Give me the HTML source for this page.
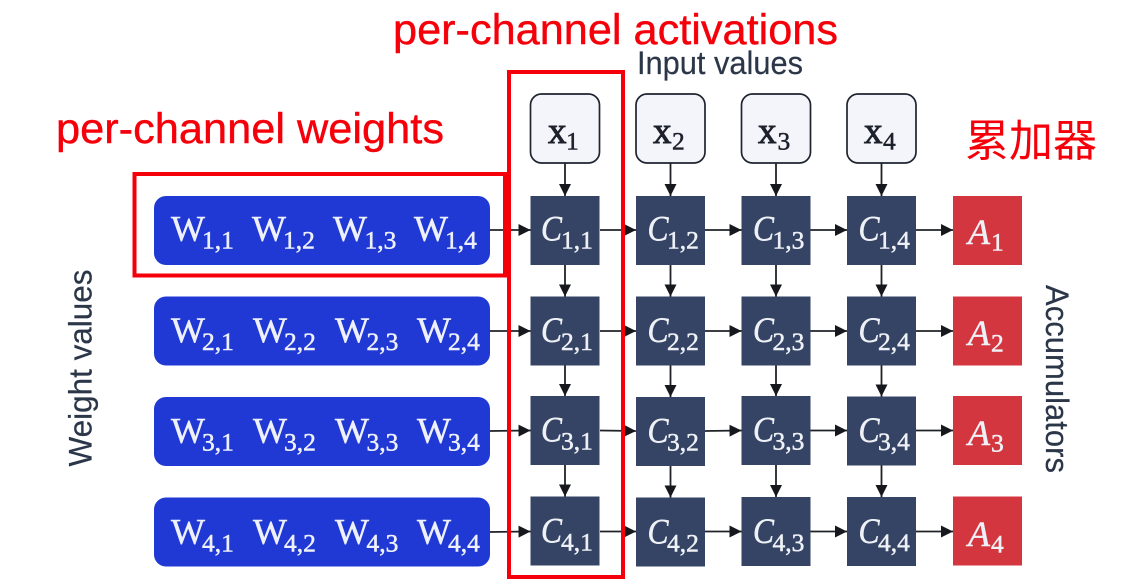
<!DOCTYPE html>
<html lang="en">
<head>
<meta charset="utf-8">
<title>Per-channel weights and activations diagram</title>
<style>
html,body{margin:0;padding:0;background:#fff;width:1146px;height:586px;overflow:hidden}
svg{display:block}
.lab{font-family:"Liberation Sans",sans-serif;font-size:32px;fill:#2b3648;stroke:#2b3648;stroke-width:.2}
.red{font-family:"Liberation Sans",sans-serif;font-size:43px;fill:#f5000a;stroke:#f5000a;stroke-width:.4}
.w{font-family:"Liberation Serif",serif;font-size:36px;fill:#eef1fb;stroke:#eef1fb;stroke-width:.5}
.c{font-family:"Liberation Serif",serif;font-size:36px;font-style:italic;fill:#eef1f6;stroke:#eef1f6;stroke-width:.5}
.x{font-family:"Liberation Serif",serif;font-size:37px;fill:#1c212b;stroke:#1c212b;stroke-width:.9}
.s{font-size:25.5px;font-style:normal;font-weight:normal;stroke-width:.5}
.wb{fill:#2039d4}
.cb{fill:#354364}
.ab{fill:#d43640}
.xb{fill:#f4f5fa;stroke:#1e2430;stroke-width:1.7}
.ar{stroke:#1f2227;stroke-width:1.8;fill:none;marker-end:url(#arrow-head)}
.box{fill:none;stroke:#f5000a;stroke-width:4}
</style>
</head>
<body>
<svg width="1146" height="586" viewBox="0 0 1146 586" xmlns="http://www.w3.org/2000/svg">
<defs>
<marker id="arrow-head" markerUnits="userSpaceOnUse" markerWidth="13" markerHeight="13" refX="12" refY="6" orient="auto"><path d="M0 0L12 6L0 12Z" fill="#16181d"/></marker>
</defs>
<text class="lab" x="637" y="74" textLength="166" lengthAdjust="spacingAndGlyphs">Input values</text>
<text class="lab" transform="translate(91.5 466.5) rotate(-90)" textLength="197" lengthAdjust="spacingAndGlyphs">Weight values</text>
<text class="lab" transform="translate(1046 285) rotate(90)" textLength="188" lengthAdjust="spacingAndGlyphs">Accumulators</text>
<g id="arrows"></g>
<g id="inputs"></g>
<g id="weights"></g>
<g id="cells"></g>
<g id="accumulators"></g>
<rect class="box" x="134.5" y="174" width="370.5" height="101.5"/>
<rect class="box" x="509" y="72" width="114" height="505"/>
<text class="red" x="56" y="143" textLength="388" lengthAdjust="spacingAndGlyphs">per-channel weights</text>
<text class="red" x="393" y="44" textLength="445" lengthAdjust="spacingAndGlyphs">per-channel activations</text>
<text x="965" y="156" style="font-family:'Liberation Sans','Noto Sans CJK SC',sans-serif;font-size:44px;fill:#f5000a">累加器</text>
</svg>
<script>
const rowLabels = [1, 2, 3, 4];
const columnLabels = [1, 2, 3, 4];
const boxSize = 69;
const cellLefts = [530.5, 636, 741.5, 847];
const cellTops = [[196, 196, 196, 196], [296.5, 296.5, 296.5, 296.5], [396, 397, 396, 396.5], [496.5, 497.5, 497, 497]];
const cellBaselineOffsets = [44.7, 45.5, 45.7, 46.2];
const cellLetterLefts = [541, 647.5, 753, 858.5];
const cellSubscriptLefts = [561, 667, 772.5, 878];
const weightTops = [196, 296.5, 397, 497.5];
const weightBaselines = [240.7, 342, 442.7, 543.7];
const weightLetterLefts = [[171, 252, 333, 414], [171, 253, 335, 417], [171, 253, 335, 417], [171, 253, 335, 417]];
const weightSubscriptLefts = [[202, 283, 364.5, 445], [202, 284, 366.5, 448], [202, 284, 366.5, 448], [202, 284, 366.5, 448]];
const accumulatorTops = [196, 296.5, 396, 496.5];
const accumulatorBaselines = [244, 345, 445, 546];
const inputLetterLefts = [548, 653, 758, 864];
const inputSubscriptLefts = [566, 672, 777.5, 883];
const columnCenters = [565, 670.5, 776, 881.5];
const flowY = [[230, 230, 230, 230, 230, 230], [331, 331, 331, 331, 331, 331], [431, 430.5, 431, 430.5, 430.5, 430.5], [532, 531.5, 531.5, 531.5, 531.5, 531.5]];
const flowStarts = [490, 600, 705, 810.5, 916];
const flowEnds = [530.5, 636, 741.5, 847, 953];

function make(parent, tag, cls, props, content) {
  const el = document.createElementNS('http://www.w3.org/2000/svg', tag);
  el.setAttribute('class', cls);
  Object.keys(props).forEach(function (key) { el.setAttribute(key, props[key]); });
  if (content !== undefined) el.textContent = content;
  parent.appendChild(el);
  return el;
}

const arrowLayer = document.getElementById('arrows');
const inputLayer = document.getElementById('inputs');
const weightLayer = document.getElementById('weights');
const cellLayer = document.getElementById('cells');
const accumulatorLayer = document.getElementById('accumulators');

columnLabels.forEach(function (column, c) {
  const inputBox = make(inputLayer, 'rect', 'xb', { x: cellLefts[c], y: 94, width: boxSize, height: boxSize, rx: 11 });
  
  
  const inputLetter = make(inputLayer, 'text', 'x', { x: inputLetterLefts[c], y: 143 }, 'x');
  
  
  const inputSubscript = make(inputLayer, 'text', 'x s', { x: inputSubscriptLefts[c], y: 149.5 }, String(column));
  
  
});

rowLabels.forEach(function (row, r) {
  const weightRow = make(weightLayer, 'rect', 'wb', { x: 154, y: weightTops[r], width: 336, height: boxSize, rx: 12 });
  
  

  const accumulator = make(accumulatorLayer, 'rect', 'ab', { x: 953, y: accumulatorTops[r], width: boxSize, height: boxSize });
  
  
  const accumulatorLetter = make(accumulatorLayer, 'text', 'c', { x: 968, y: accumulatorBaselines[r] }, 'A');
  
  
  const accumulatorSubscript = make(accumulatorLayer, 'text', 'c s', { x: 991, y: accumulatorBaselines[r] + 6.5 }, String(row));
  
  

  flowStarts.forEach(function (startX, segment) {
    const flowArrow = make(arrowLayer, 'path', 'ar', { d: 'M' + startX + ' ' + flowY[r][segment] + 'L' + flowEnds[segment] + ' ' + flowY[r][segment + 1] });
    
    
  });

  columnLabels.forEach(function (column, c) {
    const pair = row + ',' + column;
    const suffix = row + '-' + column;
    const top = cellTops[r][c];
    const baseline = top + cellBaselineOffsets[r];

    const downStart = r === 0 ? 163 : cellTops[r - 1][c] + boxSize;
    const downArrow = make(arrowLayer, 'path', 'ar', { d: 'M' + columnCenters[c] + ' ' + downStart + 'V' + top });
    
    

    const weightLetter = make(weightLayer, 'text', 'w', { x: weightLetterLefts[r][c], y: weightBaselines[r] }, 'W');
    
    
    const weightSubscript = make(weightLayer, 'text', 'w s', { x: weightSubscriptLefts[r][c], y: weightBaselines[r] + 8 }, pair);
    
    

    const cell = make(cellLayer, 'rect', 'cb', { x: cellLefts[c], y: top, width: boxSize, height: boxSize });
    
    
    const cellLetter = make(cellLayer, 'text', 'c', { x: cellLetterLefts[c], y: baseline, textLength: 21, lengthAdjust: 'spacingAndGlyphs' }, 'C');
    
    
    const cellSubscript = make(cellLayer, 'text', 'c s', { x: cellSubscriptLefts[c], y: baseline + 8 }, pair);
    
    
  });
});
</script>
</body>
</html>
